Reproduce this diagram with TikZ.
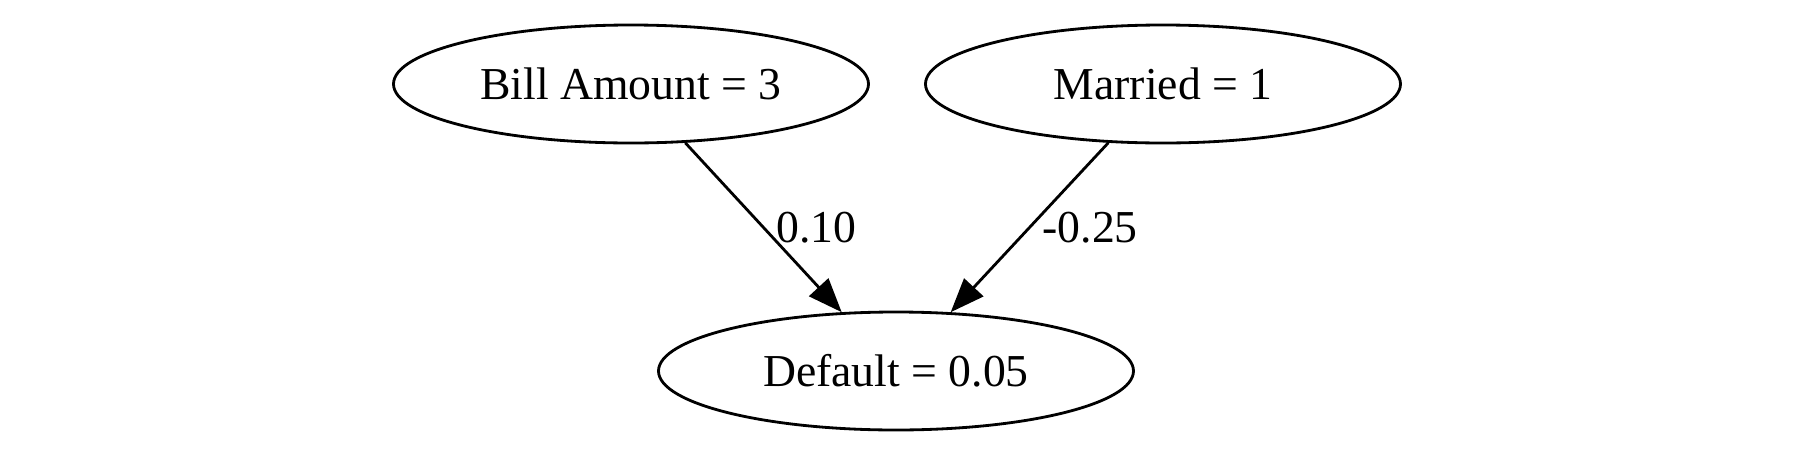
\documentclass[tikz,border=0pt]{standalone}
\usepackage{fontspec}
\setmainfont{Liberation Serif}
\usetikzlibrary{shapes.geometric, arrows.meta}
\tikzstyle{var} = [ellipse, minimum width=4.75cm, minimum height=1.18cm, inner sep=0, draw=black, thick, font=\fontsize{13}{15}\selectfont]
\tikzstyle{arrow} = [thick,->,>={Triangle[length=3.4mm,width=2.6mm]}]
\tikzstyle{weight} = [font=\fontsize{13}{15}\selectfont]
\begin{document}
\begin{tikzpicture}
\useasboundingbox (0,0) rectangle (18,-4.5);

\node[var] (bill) at (6.31,-0.84) {Bill Amount = 3};
\node[var] (married) at (11.63,-0.84) {Married = 1};
\node[var] (default) at (8.96,-3.71) {Default = 0.05};

\draw[arrow] (bill) -- node[weight,right]{0.10} (default);
\draw[arrow] (married) -- node[weight,right]{-0.25} (default);
\end{tikzpicture}
\end{document}
